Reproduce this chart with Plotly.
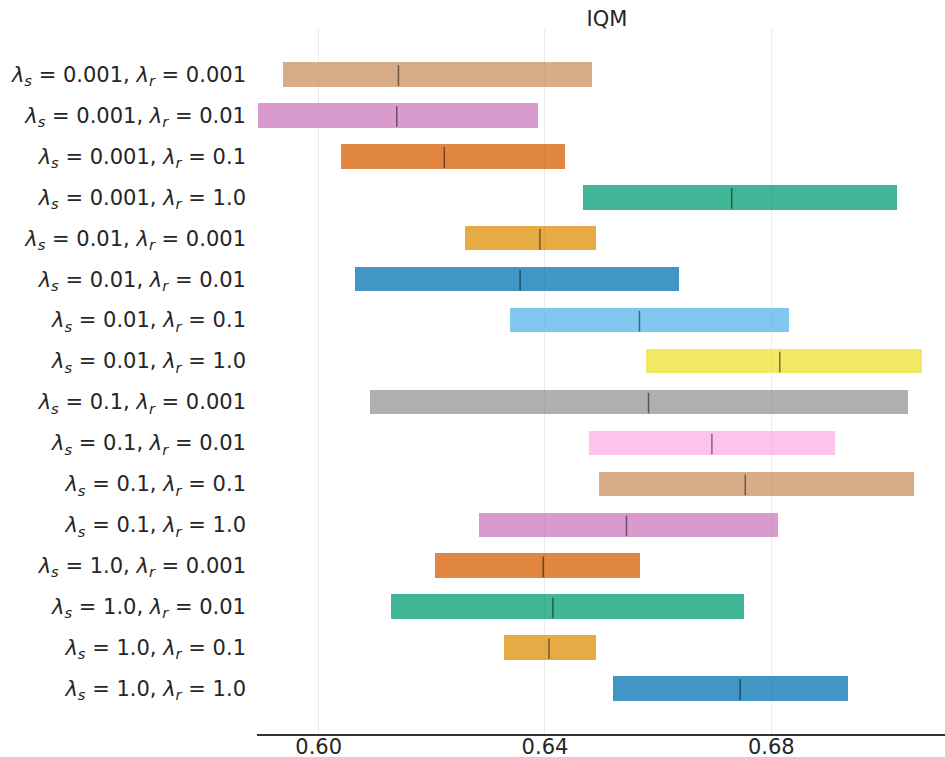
import plotly.graph_objects as go

lam_s = ["0.001"] * 4 + ["0.01"] * 4 + ["0.1"] * 4 + ["1.0"] * 4
lam_r = ["0.001", "0.01", "0.1", "1.0"] * 4

lower = [0.5937, 0.5893, 0.6039, 0.6467, 0.6259, 0.6065, 0.6338, 0.6578,
         0.6090, 0.6478, 0.6496, 0.6284, 0.6206, 0.6127, 0.6328, 0.6521]
upper = [0.6483, 0.6387, 0.6435, 0.7022, 0.6491, 0.6637, 0.6832, 0.7066,
         0.7041, 0.6913, 0.7052, 0.6811, 0.6568, 0.6751, 0.6491, 0.6936]
median = [0.6141, 0.6138, 0.6222, 0.6730, 0.6391, 0.6356, 0.6567, 0.6815,
          0.6583, 0.6695, 0.6754, 0.6544, 0.6397, 0.6414, 0.6407, 0.6745]

palette = ["#CA9161", "#CC78BC", "#D55E00", "#029E73", "#DE8F05", "#0173B2",
           "#56B4E9", "#ECE133", "#949494", "#FBAFE4"]
colors = [palette[i % len(palette)] for i in range(16)]

tick_vals = [0.60, 0.64, 0.68]
tick_text = ["0.60", "0.64", "0.68"]


def rgba(h, a):
    h = h.lstrip("#")
    r, g, b = int(h[0:2], 16), int(h[2:4], 16), int(h[4:6], 16)
    return f"rgba({r},{g},{b},{a})"


labels = [f"<i>λ</i><sub><i>s</i></sub> = {s}, <i>λ</i><sub><i>r</i></sub> = {r}"
          for s, r in zip(lam_s, lam_r)]
idx = list(range(len(labels)))

fig = go.Figure()
fig.add_trace(go.Bar(
    y=idx, x=[u - l for l, u in zip(lower, upper)], base=lower,
    orientation="h", width=0.6,
    marker=dict(color=[rgba(c, 0.75) for c in colors], line=dict(width=0)),
    hoverinfo="skip", showlegend=False,
))

mx, my = [], []
for i, m in enumerate(median):
    mx += [m, m, None]
    my += [i - 0.225, i + 0.28, None]
fig.add_trace(go.Scatter(
    x=mx, y=my, mode="lines",
    line=dict(color="rgba(0,0,0,0.5)", width=1.5),
    hoverinfo="skip", showlegend=False,
))

font = dict(family="DejaVu Sans", size=21, color="#262626")
fig.update_layout(
    width=945, height=757,
    margin=dict(l=257, r=0, t=29, b=23),
    plot_bgcolor="white", paper_bgcolor="white",
    font=font,
    title=dict(text="IQM", x=607 / 945, xref="container", xanchor="center",
               y=1 - 19 / 757, yref="container", yanchor="middle",
               font=font),
    bargap=0,
)
fig.update_xaxes(
    range=[0.5891, 0.7107], tickvals=tick_vals, ticktext=tick_text,
    showgrid=True, gridcolor="#ebebeb", gridwidth=1,
    showline=True, linecolor="#333333", linewidth=1.5,
    ticks="", zeroline=False, automargin=False,
    tickfont=font, ticklabelstandoff=-7,
)
fig.update_yaxes(
    range=[16.11, -1.11], tickvals=idx, ticktext=labels,
    showgrid=False, showline=False, zeroline=False, ticks="",
    automargin=False, tickfont=font, ticklabelstandoff=10,
)

fig.write_html(
    "out.html",
    config={"displayModeBar": False},
    post_script="document.body.style.margin='0';document.body.style.overflow='hidden';",
)
